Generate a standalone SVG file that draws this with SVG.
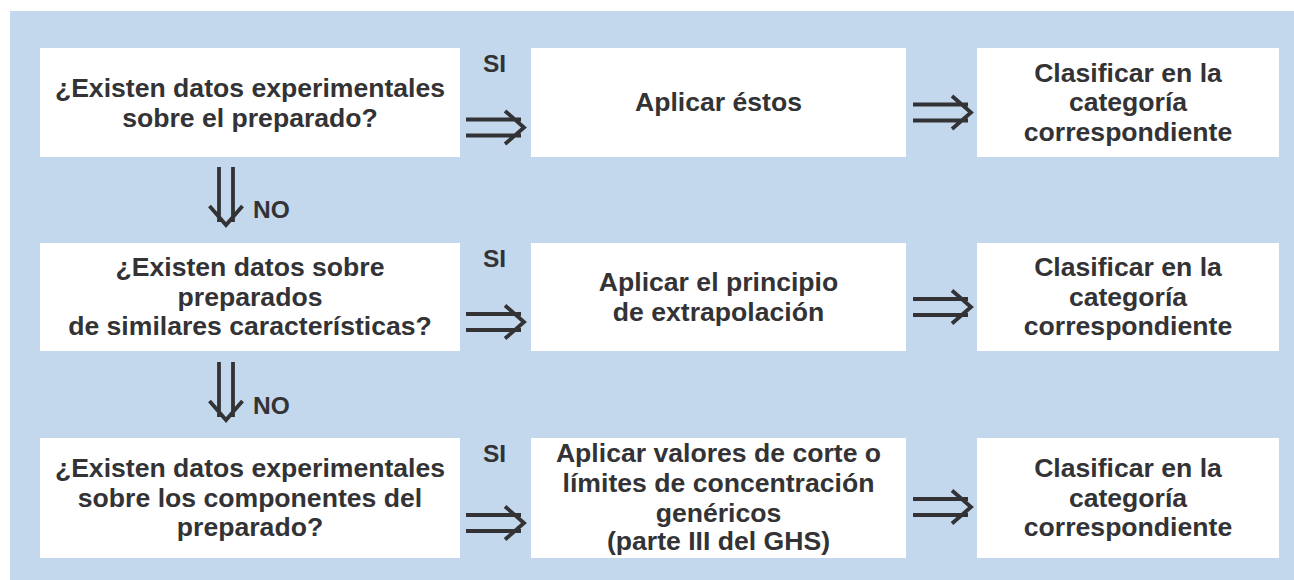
<svg xmlns="http://www.w3.org/2000/svg" width="1294" height="580" viewBox="0 0 1294 580">
<style>
.box{fill:#ffffff}
.t{font-family:"Liberation Sans",Arial,Helvetica,sans-serif;font-weight:bold;font-size:26.6px;fill:#333336;text-anchor:middle}
.lbl{font-family:"Liberation Sans",Arial,Helvetica,sans-serif;font-weight:bold;font-size:24.5px;fill:#333336}
.arr{fill:none;stroke:#333336;stroke-width:3.8;stroke-linecap:butt;stroke-linejoin:miter}
</style>
<defs>
<g id="ar">
<path class="arr" d="M-59,-8H-4M-59,8H-4M-20,-16.5L-1,0L-20,16.5"/>
</g>
<g id="ad">
<path class="arr" d="M-7,-59V-4M7,-59V-4M-16.5,-20L0,-1L16.5,-20"/>
</g>
</defs>
<rect x="10" y="11" width="1284" height="569" fill="#c3d8ec"/>

<g id="n1">
<rect class="box" x="40" y="48" width="420" height="109"/>
<text class="t" x="250" y="96.7">¿Existen datos experimentales</text>
<text class="t" x="250" y="126.7">sobre el preparado?</text>
</g>
<g id="n2">
<rect class="box" x="531" y="48" width="375" height="109"/>
<text class="t" x="718.5" y="111">Aplicar éstos</text>
</g>
<g id="n3">
<rect class="box" x="977" y="48" width="302" height="109"/>
<text class="t" x="1128" y="81.7">Clasificar en la</text>
<text class="t" x="1128" y="111.2">categoría</text>
<text class="t" x="1128" y="140.7">correspondiente</text>
</g>

<g id="n4">
<rect class="box" x="40" y="243" width="420" height="108"/>
<text class="t" x="250" y="276">¿Existen datos sobre</text>
<text class="t" x="250" y="305.5">preparados</text>
<text class="t" x="250" y="335">de similares características?</text>
</g>
<g id="n5">
<rect class="box" x="531" y="243" width="375" height="108"/>
<text class="t" x="718.5" y="291">Aplicar el principio</text>
<text class="t" x="718.5" y="320.5">de extrapolación</text>
</g>
<g id="n6">
<rect class="box" x="977" y="243" width="302" height="108"/>
<text class="t" x="1128" y="276">Clasificar en la</text>
<text class="t" x="1128" y="305.5">categoría</text>
<text class="t" x="1128" y="335">correspondiente</text>
</g>

<g id="n7">
<rect class="box" x="40" y="438" width="420" height="120"/>
<text class="t" x="250" y="477">¿Existen datos experimentales</text>
<text class="t" x="250" y="506.5">sobre los componentes del</text>
<text class="t" x="250" y="536">preparado?</text>
</g>
<g id="n8">
<rect class="box" x="531" y="438" width="375" height="120"/>
<text class="t" x="718.5" y="461.7">Aplicar valores de corte o</text>
<text class="t" x="718.5" y="492">límites de concentración</text>
<text class="t" x="718.5" y="521.5">genéricos</text>
<text class="t" x="718.5" y="550">(parte III del GHS)</text>
</g>
<g id="n9">
<rect class="box" x="977" y="438" width="302" height="120"/>
<text class="t" x="1128" y="477">Clasificar en la</text>
<text class="t" x="1128" y="506.5">categoría</text>
<text class="t" x="1128" y="536">correspondiente</text>
</g>

<g id="connectors">
<use href="#ar" x="525" y="127.5"/>
<use href="#ar" x="972" y="112.5"/>
<use href="#ar" x="525" y="322"/>
<use href="#ar" x="972" y="307"/>
<use href="#ar" x="525" y="523"/>
<use href="#ar" x="972" y="507"/>
<use href="#ad" x="226" y="226"/>
<use href="#ad" x="226" y="421"/>
<text class="lbl" x="483" y="72.3">SI</text>
<text class="lbl" x="483" y="266.7">SI</text>
<text class="lbl" x="483" y="462">SI</text>
<text class="lbl" x="253" y="218.3">NO</text>
<text class="lbl" x="253" y="414">NO</text>
</g>
</svg>
